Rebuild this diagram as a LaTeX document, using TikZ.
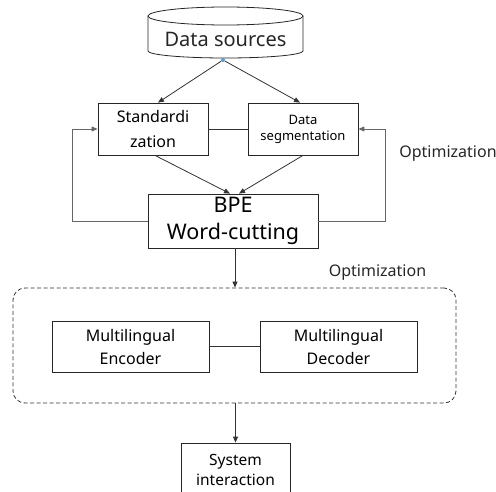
\documentclass[tikz,border=0pt]{standalone}
\usepackage{fontspec}
\setmainfont{Noto Sans}
\usetikzlibrary{arrows.meta,calc}
\begin{document}
\begin{tikzpicture}[x=1pt,y=-1pt,
  box/.style={draw=black!85, line width=0.8pt, inner sep=0pt, align=center},
  arr/.style={-{Triangle[length=6pt,width=5pt]}, line width=0.8pt, draw=black!80},
  lnk/.style={line width=0.8pt, draw=black!80},
  loop/.style={-{Triangle[length=6pt,width=5pt]}, line width=0.9pt, draw=black!60},
  lbl/.style={inner sep=0pt, text=black!85}]
\useasboundingbox (0,0) rectangle (496,492);
\clip (0,0) rectangle (496,492);
% cylinder
\draw[line width=0.8pt, draw=black!85] (148,16) -- (148,51) arc[start angle=180,end angle=360,x radius=77.5,y radius=-7] -- (303,16);
\draw[line width=0.8pt, draw=black!85] (225.5,16) ellipse[x radius=77.5, y radius=9];
\node[lbl, font={\fontsize{20}{22}\selectfont}] (ds) at (225.5,39.5) {Data sources};
\node[circle, fill={rgb,255:red,91;green,155;blue,213}, inner sep=0pt, minimum size=4pt] (src) at (223,60) {};
% boxes
\node[box, minimum width=110pt, minimum height=52pt, font={\fontsize{16}{25}\selectfont}] (std) at (153,129) {Standardi\\zation};
\node[box, minimum width=110pt, minimum height=52pt, font={\fontsize{13}{16}\selectfont}] (seg) at (303,129) {Data\\segmentation};
\node[box, minimum width=170pt, minimum height=54pt, font={\fontsize{21.5}{27}\selectfont}] (bpe) at (233,221) {BPE\\Word-cutting};
\node[draw=black!80, dash pattern=on 4pt off 2.5pt, line width=0.8pt, rounded corners=12pt, minimum width=443pt, minimum height=115pt, inner sep=0pt] (grp) at (234.5,345.5) {};
\node[box, minimum width=157pt, minimum height=51pt, font={\fontsize{16}{23}\selectfont}] (enc) at (130.5,346.5) {Multilingual\\Encoder};
\node[box, minimum width=157pt, minimum height=51pt, font={\fontsize{16}{23}\selectfont}] (dec) at (338.5,346.5) {Multilingual\\Decoder};
\node[box, minimum width=109pt, minimum height=54pt, font={\fontsize{15.5}{20}\selectfont}] (sys) at (235.5,470) {System\\interaction};
\node[lbl, font={\fontsize{16}{18}\selectfont}] (opt1) at (448,154) {Optimization};
\node[lbl, font={\fontsize{16}{18}\selectfont}] (opt2) at (377.5,273) {Optimization};
% connectors
\draw[arr] (src) -- ([xshift=5pt]std.north);
\draw[arr] (src) -- ([xshift=-3pt]seg.north);
\draw[lnk] (std.east) -- (seg.west);
\draw[arr] ([xshift=2pt]std.south) -- ([xshift=-3pt]bpe.north);
\draw[arr] (seg.south) -- ([xshift=6pt]bpe.north);
\draw[loop] (bpe.west) -- ++(-75,0) |- (std.west);
\draw[loop] (bpe.east) -- ++(67,0) |- (seg.east);
\draw[arr] ([xshift=2pt]bpe.south) -- ([xshift=2pt]bpe.south |- grp.north);
\draw[lnk] (enc.east) -- (dec.west);
\draw[arr] (sys.north |- grp.south) -- (sys.north);
\end{tikzpicture}
\end{document}
